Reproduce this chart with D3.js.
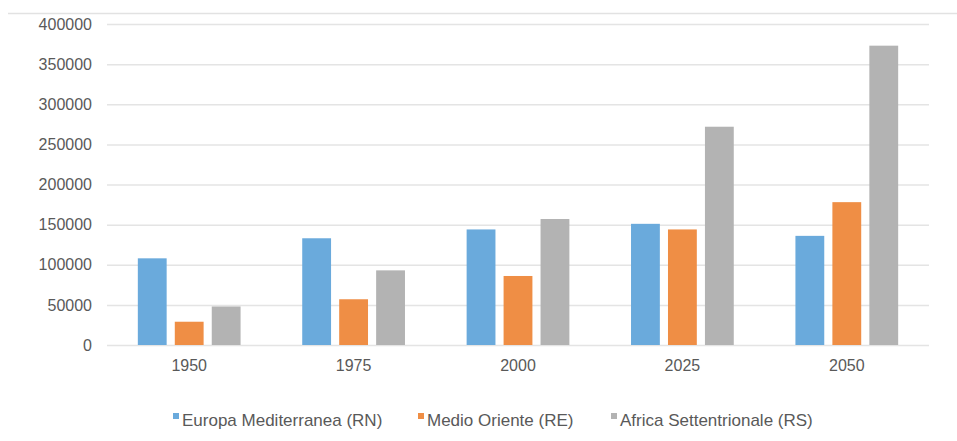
<!DOCTYPE html>
<html>
<head>
<meta charset="utf-8">
<script src="https://cdn.jsdelivr.net/npm/d3@7/dist/d3.min.js"></script>
<style>
	body { margin: 0; background: #fff; }
	svg { display: block; font-family: 'Liberation Sans', Arial, sans-serif; }
	.axis text { fill: #595959; font-size: 16px; }
	.axis .domain { display: none; }
	.axis--y line { stroke: #e4e4e4; stroke-width: 1.5; }
	.axis--x line { display: none; }
	.legend text { fill: #595959; font-size: 17px; }
</style>
</head>
<body>
<svg id="chart"></svg>
<script>
const YEARS = ['1950', '1975', '2000', '2025', '2050'];
const SERIES = ['Europa Mediterranea (RN)', 'Medio Oriente (RE)', 'Africa Settentrionale (RS)'];
const RN = [108000, 133000, 144000, 151000, 136000];
const RE = [29000, 57000, 86000, 144000, 178000];
const RS = [48000, 93000, 157000, 272000, 373000];
const Y_TICKS = [0, 50000, 100000, 150000, 200000, 250000, 300000, 350000, 400000];
const COLORS = ['#6aaadc', '#ef8e45', '#b3b3b3'];

const W = 957;
const H = 441;
const margin = { top: 24, right: 28, bottom: 96, left: 107 };
const width = W - margin.left - margin.right;
const height = H - margin.top - margin.bottom;

const values = [RN, RE, RS];
const data = YEARS.map((year, i) => ({
	year,
	vals: SERIES.map((s, j) => ({ key: s, idx: j, value: values[j][i] }))
}));

const $svg = d3.select('#chart').attr('width', W).attr('height', H);

// top frame line
$svg.append('line')
	.attr('x1', 8).attr('x2', W)
	.attr('y1', 13.5).attr('y2', 13.5)
	.attr('stroke', '#e2e2e2').attr('stroke-width', 1.5);

const $g = $svg.append('g').attr('transform', `translate(${margin.left},${margin.top})`);

const x0 = d3.scaleBand().domain(YEARS).range([0, width]).paddingInner(0.375).paddingOuter(0.1875);
const x1 = d3.scaleBand().domain(SERIES).range([0, x0.bandwidth()]).paddingInner(0.22);
const y = d3.scaleLinear().domain([0, 400000]).range([height, 0]);

$g.append('g')
	.attr('class', 'axis axis--y')
	.call(d3.axisLeft(y).tickValues(Y_TICKS).tickFormat(d3.format('d')).tickSize(-width).tickPadding(15));

$g.append('g')
	.attr('class', 'axis axis--x')
	.attr('transform', `translate(0,${height})`)
	.call(d3.axisBottom(x0).tickSize(0).tickPadding(15));

const $group = $g.selectAll('.group')
	.data(data)
	.enter()
	.append('g')
	.attr('class', 'group')
	.attr('transform', d => `translate(${x0(d.year)},0)`);

$group.selectAll('rect')
	.data(d => d.vals)
	.enter()
	.append('rect')
	.attr('x', d => x1(d.key))
	.attr('width', x1.bandwidth())
	.attr('y', d => y(d.value))
	.attr('height', d => height - y(d.value))
	.attr('fill', d => COLORS[d.idx]);

// legend
const LEGEND_X = [173, 418, 611];
const $legend = $svg.append('g').attr('class', 'legend');
const $item = $legend.selectAll('g')
	.data(SERIES)
	.enter()
	.append('g')
	.attr('transform', (d, i) => `translate(${LEGEND_X[i]},420)`);

$item.append('rect')
	.attr('x', 0).attr('y', -7)
	.attr('width', 6).attr('height', 6)
	.attr('fill', (d, i) => COLORS[i]);

$item.append('text')
	.attr('x', 9)
	.attr('y', 0)
	.attr('dy', '0.33em')
	.text(d => d);
</script>
</body>
</html>
